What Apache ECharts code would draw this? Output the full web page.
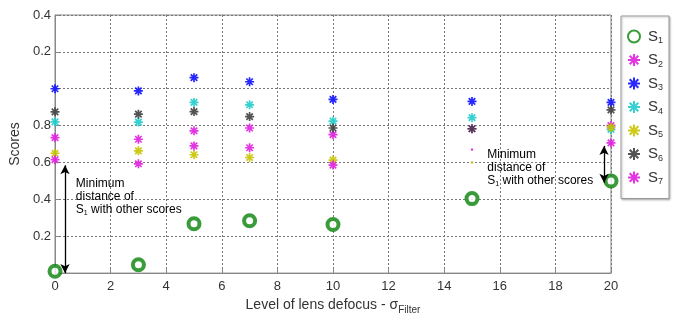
<!DOCTYPE html>
<html>
<head>
<meta charset="utf-8">
<script src="https://cdn.jsdelivr.net/npm/echarts@6/dist/echarts.min.js"></script>
<style>
  html, body { margin: 0; padding: 0; background: #fff; }
  #chart { width: 677px; height: 320px; }
</style>
</head>
<body>
<div id="chart"></div>
<script>
// filter levels (x)
const levels = [0, 3, 5, 7, 10, 15, 20]
// scores per series
const s1 = [0.01, 0.045, 0.268, 0.284, 0.264, 0.404, 0.50]
const s2 = [0.735, 0.726, 0.772, 0.787, 0.751, 0.783, 0.80]
const s3 = [1.00, 0.988, 1.06, 1.038, 0.942, 0.931, 0.926]
const s4 = [0.82, 0.819, 0.926, 0.913, 0.824, 0.843, 0.779]
const s5 = [0.65, 0.663, 0.642, 0.627, 0.613, 0.60, 0.79]
const s6 = [0.875, 0.862, 0.876, 0.849, 0.787, 0.783, 0.885]
const s7 = [0.615, 0.593, 0.69, 0.68, 0.586, 0.67, 0.706]
// y tick labels as printed (axis goes 0 .. 1.4)
const yTickLabels = ['', '0.2', '0.4', '0.6', '0.8', '', '0.2', '0.4']

const asterisk = 'path://M0,-5L0,5M-5,0L5,0M-3.6,-3.6L3.6,3.6M-3.6,3.6L3.6,-3.6'
const font = 'Liberation Sans, Arial, sans-serif'

function pts (ys, small) {
  return levels.map((x, i) => {
    const p = { value: [x, ys[i]] }
    if (small && small.indexOf(i) >= 0) p.symbolSize = 2
    return p
  })
}

function star (name, ys, color, small) {
  return {
    name: name,
    type: 'scatter',
    symbol: asterisk,
    symbolSize: 9,
    itemStyle: { color: color, borderColor: color, borderWidth: 1.7, opacity: 0.9 },
    data: pts(ys, small)
  }
}

const chart = echarts.init(document.getElementById('chart'))
const sub = { fontSize: 9, padding: [9, 0, 0, 0], fontFamily: font, color: '#333' }

chart.setOption({
  animation: false,
  textStyle: { fontFamily: font },
  grid: {
    left: 55, right: 66, top: 15, bottom: 44,
    show: true, borderColor: '#888', borderWidth: 1
  },
  legend: {
    orient: 'vertical',
    left: 621, top: 16,
    width: 47,
    padding: [13, 6, 12, 6],
    itemGap: 7,
    itemWidth: 18, itemHeight: 12,
    backgroundColor: '#fff',
    borderColor: '#999',
    borderWidth: 1,
    shadowColor: 'rgba(0,0,0,0.25)', shadowBlur: 2, shadowOffsetX: 1, shadowOffsetY: 1,
    data: ['S1', 'S2', 'S3', 'S4', 'S5', 'S6', 'S7'],
    formatter: name => '{m|S}{s|' + name.slice(1) + '}',
    textStyle: {
      rich: {
        m: { fontSize: 15, fontFamily: font, color: '#333' },
        s: sub
      }
    }
  },
  xAxis: {
    type: 'value',
    min: 0, max: 20, interval: 2,
    name: '{m|Level of lens defocus - σ}{s|Filter}',
    nameLocation: 'middle',
    nameGap: 18,
    nameTextStyle: {
      rich: {
        m: { fontSize: 14, fontFamily: font, color: '#333' },
        s: { fontSize: 10, padding: [10, 0, 0, 0], fontFamily: font, color: '#333' }
      }
    },
    axisLine: { lineStyle: { color: '#888' } },
    axisTick: { inside: true, length: 4, lineStyle: { color: '#888' } },
    axisLabel: { fontSize: 13, color: '#333', margin: 7 },
    splitLine: { show: true, lineStyle: { type: [2, 2], color: '#777', width: 1 } }
  },
  yAxis: {
    type: 'value',
    min: 0, max: 1.4, interval: 0.2,
    name: 'Scores',
    nameLocation: 'middle',
    nameGap: 26,
    nameTextStyle: { fontSize: 14, color: '#333' },
    axisLine: { show: true, lineStyle: { color: '#888' } },
    axisTick: { show: true, inside: true, length: 4, lineStyle: { color: '#888' } },
    axisLabel: {
      fontSize: 13, color: '#333', margin: 4,
      formatter: v => yTickLabels[Math.round(v / 0.2)]
    },
    splitLine: { show: true, lineStyle: { type: [2, 2], color: '#777', width: 1 } }
  },
  series: [
    {
      name: 'S1',
      type: 'scatter',
      symbol: 'circle',
      symbolSize: 11,
      z: 3,
      itemStyle: { color: '#fff', borderColor: '#078207', borderWidth: 4 },
      data: pts(s1),
      markLine: {
        silent: true,
        symbol: ['arrow', 'arrow'],
        symbolSize: [7, 9],
        label: { show: false },
        lineStyle: { color: '#000', type: 'solid', width: 1.3 },
        data: [
          [{ coord: [0.36, 0.585] }, { coord: [0.36, 0] }],
          [{ coord: [19.75, 0.69] }, { coord: [19.75, 0.49] }]
        ]
      }
    },
    star('S2', s2, '#e020e0'),
    star('S3', s3, '#1010ff'),
    star('S4', s4, '#22cccc'),
    star('S5', s5, '#c8c400', [5]),
    star('S6', s6, '#404040'),
    star('S7', s7, '#e020e0', [5])
  ]
})

// annotation text next to the arrows
const noteStyle = {
  rich: {
    m: { fontSize: 12, fontFamily: font, color: '#333', lineHeight: 13 },
    s: { fontSize: 7, fontFamily: font, color: '#333', padding: [6, 0, 0, 0] }
  }
}
const noteText = '{m|Minimum}\n{m|distance of}\n{m|S}{s|1}{m| with other scores}'
const a1 = chart.convertToPixel({ gridIndex: 0 }, [0.75, 0.52])
const a2 = chart.convertToPixel({ gridIndex: 0 }, [15.55, 0.675])
chart.setOption({
  graphic: [
    { type: 'text', x: a1[0], y: a1[1], style: Object.assign({ text: noteText }, noteStyle) },
    { type: 'text', x: a2[0], y: a2[1], style: Object.assign({ text: noteText }, noteStyle) }
  ]
})
</script>
</body>
</html>
